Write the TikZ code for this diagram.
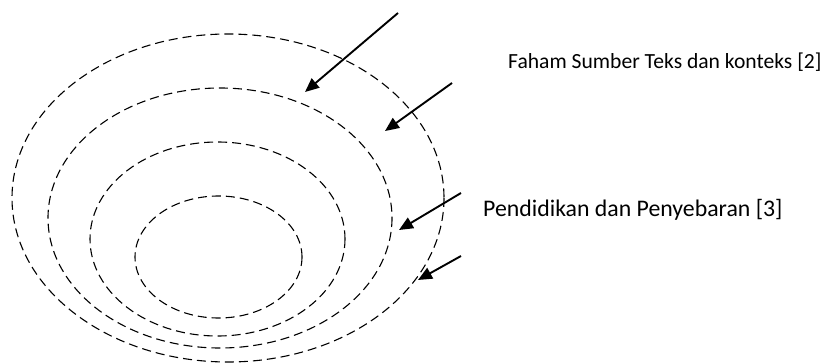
\documentclass[tikz,border=0pt]{standalone}
\usepackage{fontspec}
\setmainfont{Carlito}
\usetikzlibrary{arrows.meta}

\tikzset{
  ring/.style={dash pattern=on 9pt off 5pt, line width=1.1pt},
  pointer/.style={line width=1.9pt, -{Triangle[length=14pt, width=12pt]}},
  label/.style={inner sep=0pt, anchor=base west}
}

\begin{document}
\begin{tikzpicture}[x=1pt, y=-1pt]
  \useasboundingbox (0,0) rectangle (821,363);
  % rings
  \coordinate (O1) at (228,198);
  \coordinate (O2) at (220,218);
  \coordinate (O3) at (217.5,239);
  \coordinate (O4) at (218.5,257);
  \draw[ring] (O1) ellipse [x radius=216, y radius=164];
  \draw[ring] (O2) ellipse [x radius=172, y radius=130];
  \draw[ring] (O3) ellipse [x radius=127.5, y radius=97];
  \draw[ring] (O4) ellipse [x radius=83.5, y radius=61];
  % arrows
  \coordinate (s1) at (398,13);
  \coordinate (t1) at (305,92);
  \coordinate (s2) at (452,83);
  \coordinate (t2) at (385,131);
  \coordinate (s3) at (461,193);
  \coordinate (t3) at (399,230);
  \coordinate (s4) at (461,256);
  \coordinate (t4) at (418,280);
  \draw[pointer] (s1) -- (t1);
  \draw[pointer] (s2) -- (t2);
  \draw[pointer] (s3) -- (t3);
  \draw[pointer] (s4) -- (t4);
  % texts
  \node[label, font=\fontsize{21.6}{26}\selectfont] (faham) at (508,69) {Faham Sumber Teks dan konteks [2]};
  \node[label, font=\fontsize{23.8}{28}\selectfont] (didik) at (483,216.5) {Pendidikan dan Penyebaran [3]};
\end{tikzpicture}
\end{document}
